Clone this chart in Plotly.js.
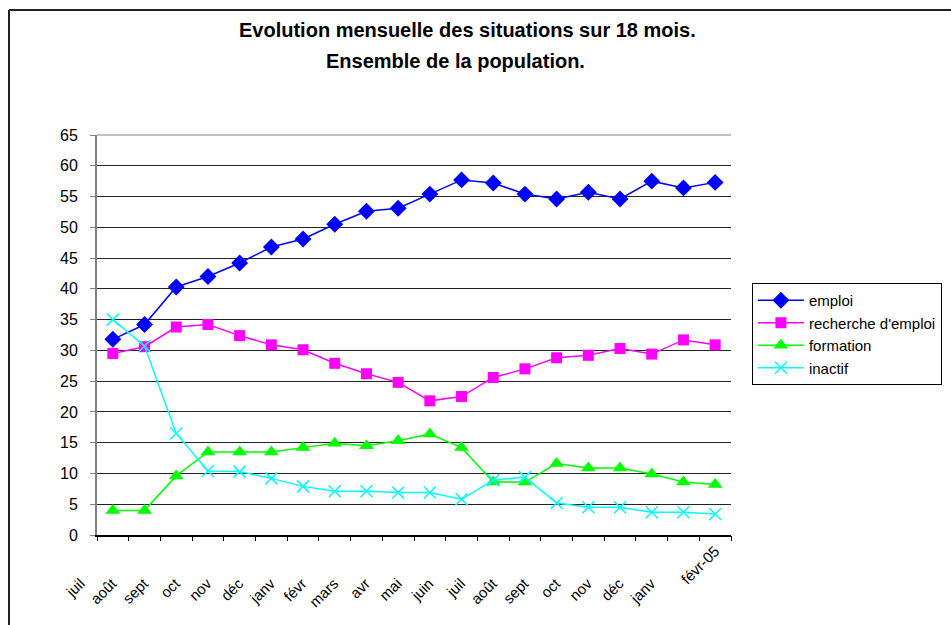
<!DOCTYPE html>
<html>
<head>
<meta charset="utf-8">
<script src="https://cdn.plot.ly/plotly-3.0.1.min.js"></script>
<style>
html,body{margin:0;padding:0;background:#fff;}
#chart{width:951px;height:625px;}
</style>
</head>
<body>
<div id="chart"></div>
<script>
var months = ['juil','août','sept','oct','nov','déc','janv','févr','mars','avr','mai','juin','juil','août','sept','oct','nov','déc','janv','févr-05'];
var emploi = [31.8,34.2,40.3,42.0,44.2,46.8,48.1,50.5,52.6,53.1,55.4,57.7,57.2,55.4,54.6,55.7,54.6,57.5,56.4,57.3];
var recherche = [29.5,30.6,33.8,34.2,32.4,30.9,30.1,27.9,26.2,24.8,21.8,22.5,25.6,27.0,28.8,29.2,30.3,29.4,31.7,30.9];
var formation = [4.0,4.0,9.6,13.5,13.5,13.5,14.2,14.9,14.5,15.3,16.4,14.2,8.6,8.6,11.6,10.9,10.9,9.9,8.6,8.2];
var inactif = [35.0,30.7,16.5,10.4,10.3,9.2,7.9,7.1,7.1,6.9,6.9,5.8,8.9,9.4,5.2,4.5,4.5,3.7,3.7,3.4];
var seriesNames = ['emploi',"recherche d'emploi",'formation','inactif'];
var yTicks = [0,5,10,15,20,25,30,35,40,45,50,55,60,65];

var idx = months.map(function(_, i){ return i; });
// visible labels: the hidden year suffix is replaced by blank padding
var tickText = months.map(function(m){
  return m.indexOf('-') >= 0 ? m : m + '\u00a0'.repeat(11);
});

function tr(name, y, color, symbol, size, group){
  return {
    x: idx, y: y, name: name, type: 'scatter', mode: 'lines+markers',
    legendgroup: group,
    line: {color: color, width: 1.5},
    marker: {symbol: symbol, size: size, color: color,
             line: {color: color, width: symbol === 'x-thin' ? 1.5 : 0}}
  };
}

var data = [
  tr(seriesNames[0], emploi, '#0000FF', 'diamond', 13, 'a'),
  tr(seriesNames[1], recherche, '#FF00FF', 'square', 11, 'b'),
  tr(seriesNames[2], formation, '#00FF00', 'triangle-up', 13, 'c'),
  tr(seriesNames[3], inactif, '#00FFFF', 'x-thin', 12, 'd')
];

var font = 'Liberation Sans, Arial, sans-serif';
var layout = {
  width: 951, height: 625,
  margin: {l: 97, r: 220, t: 135, b: 90, autoexpand: false},
  paper_bgcolor: '#fff', plot_bgcolor: '#fff',
  font: {family: font, color: '#000'},
  showlegend: true,
  legend: {
    x: 1.033, y: 0.63, xanchor: 'left', yanchor: 'top',
    bordercolor: '#000', borderwidth: 1, bgcolor: '#fff',
    font: {family: font, size: 15, color: '#000'},
    tracegroupgap: 4, traceorder: 'normal', itemwidth: 46
  },
  xaxis: {
    type: 'linear', range: [-0.5, 19.5],
    tickmode: 'array', tickvals: idx, ticktext: tickText,
    tickangle: -45, tickfont: {family: font, size: 15, color: '#000'},
    showgrid: false, zeroline: false,
    showline: true, linecolor: '#000', linewidth: 1.5,
    ticks: '', fixedrange: true, automargin: false
  },
  yaxis: {
    range: [0, 65], tickmode: 'array', tickvals: yTicks,
    tickfont: {family: font, size: 16, color: '#000'},
    showgrid: true, gridcolor: '#222', gridwidth: 1,
    zeroline: false, showline: true, linecolor: '#808080', linewidth: 2,
    ticks: 'outside', ticklen: 5, tickcolor: '#808080', tickwidth: 1,
    ticklabelstandoff: 9, fixedrange: true, automargin: false
  },
  shapes: [
    // outer chart frame
    {type: 'line', xref: 'paper', yref: 'paper', x0: -0.1388, x1: 1.4, y0: 1.3125, y1: 1.3125, line: {color: '#222', width: 2}},
    {type: 'line', xref: 'paper', yref: 'paper', x0: -0.1388, x1: -0.1388, y0: 1.3125, y1: -0.25, line: {color: '#222', width: 2}},
    // plot-area top border
    {type: 'line', xref: 'paper', yref: 'paper', x0: 0, x1: 1, y0: 1, y1: 1, line: {color: '#c0c0c0', width: 2}, layer: 'above'}
  ],
  annotations: [
    {xref: 'paper', yref: 'paper', x: 0.585, y: 1.262, showarrow: false, xanchor: 'center', yanchor: 'middle',
     text: '<b>Evolution mensuelle des situations sur 18 mois.</b>', font: {family: font, size: 20, color: '#000'}},
    {xref: 'paper', yref: 'paper', x: 0.566, y: 1.185, showarrow: false, xanchor: 'center', yanchor: 'middle',
     text: '<b>Ensemble de la population.</b>', font: {family: font, size: 20, color: '#000'}}
  ]
};

// x-axis tick marks at category boundaries
var xt = [];
for (var k = 0; k <= months.length; k++) xt.push(k - 0.5);
layout.xaxis2 = {
  overlaying: 'x', anchor: 'y', side: 'bottom', range: [-0.5, 19.5],
  tickmode: 'array', tickvals: xt, showticklabels: false,
  ticks: 'outside', ticklen: 5, tickcolor: '#000', tickwidth: 1,
  showgrid: false, zeroline: false, showline: false, fixedrange: true
};
data.push({x: [0], y: [null], xaxis: 'x2', yaxis: 'y', showlegend: false, hoverinfo: 'skip', type: 'scatter', mode: 'markers'});

Plotly.newPlot('chart', data, layout, {displayModeBar: false, staticPlot: true});
</script>
</body>
</html>
